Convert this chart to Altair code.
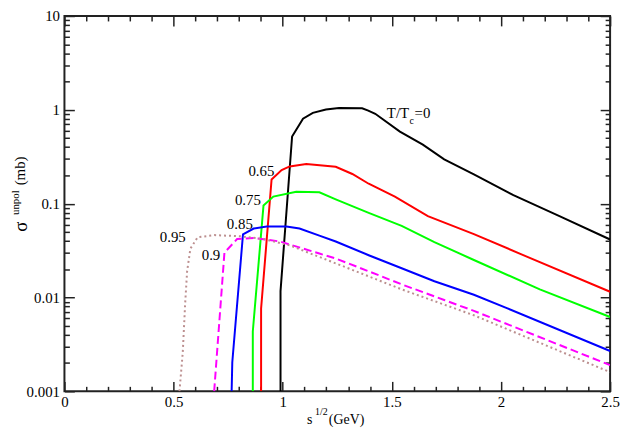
import altair as alt
import pandas as pd

FONT = "Liberation Serif"

# ---------------- data (x = sqrt(s) GeV, y = sigma mb) ----------------
black_x = [0.99, 0.99, 1.043, 1.093, 1.138, 1.198, 1.258, 1.364, 1.392, 1.424, 1.537, 1.642, 1.74, 1.876, 2.057, 2.268, 2.5]
black_y = [0.001, 0.0117, 0.519, 0.805, 0.929, 1.006, 1.048, 1.038, 0.98, 0.908, 0.585, 0.426, 0.297, 0.205, 0.123, 0.0736, 0.0415]

red_x = [0.901, 0.901, 0.949, 0.995, 1.032, 1.108, 1.243, 1.319, 1.394, 1.514, 1.665, 1.876, 2.102, 2.5]
red_y = [0.001, 0.0076, 0.181, 0.228, 0.249, 0.264, 0.247, 0.207, 0.163, 0.119, 0.0736, 0.0474, 0.0283, 0.0115]

green_x = [0.863, 0.863, 0.912, 0.957, 1.062, 1.168, 1.243, 1.394, 1.545, 1.695, 1.876, 2.178, 2.5]
green_y = [0.001, 0.00434, 0.0957, 0.119, 0.134, 0.132, 0.111, 0.0796, 0.058, 0.0389, 0.0251, 0.0122, 0.0062]

blue_x = [0.766, 0.769, 0.818, 0.867, 0.927, 1.017, 1.077, 1.168, 1.243, 1.394, 1.545, 1.695, 1.876, 2.027, 2.5]
blue_y = [0.001, 0.00204, 0.0471, 0.0543, 0.057, 0.057, 0.0543, 0.0456, 0.0395, 0.0282, 0.0205, 0.0149, 0.0107, 0.0077, 0.00269]

magenta_x = [0.686, 0.733, 0.791, 0.867, 0.987, 1.168, 1.243, 1.394, 1.545, 1.74, 1.876, 2.5]
magenta_y = [0.001, 0.030, 0.042, 0.0431, 0.0395, 0.0294, 0.026, 0.019, 0.0138, 0.0094, 0.0072, 0.0019]

dotted_x = [0.527, 0.542, 0.553, 0.562, 0.577, 0.61, 0.686, 0.806, 0.912, 1.032, 1.243, 1.394, 1.545, 1.876, 2.5]
dotted_y = [0.001, 0.00258, 0.00855, 0.019, 0.0331, 0.0438, 0.0462, 0.0449, 0.042, 0.0359, 0.0231, 0.0168, 0.0122, 0.00646, 0.0016]

# curve labels (data coordinates, right-aligned)
curve_labels = ["0.65", "0.75", "0.85", "0.9", "0.95"]
curve_label_x = [0.962, 0.900, 0.863, 0.714, 0.556]
curve_label_y = [0.199, 0.0973, 0.0535, 0.0253, 0.0389]

# "T/Tc=0" label pieces (data coordinates, left-aligned)
tt_text = ["T/T", "c", "=0"]
tt_x = [1.477, 1.581, 1.604]
tt_y = [0.81, 0.703, 0.81]
tt_size = [15, 10, 15]

# axis ticks
x_major = [0, 0.5, 1, 1.5, 2, 2.5]
x_minor = [0.1, 0.2, 0.3, 0.4, 0.6, 0.7, 0.8, 0.9, 1.1, 1.2, 1.3, 1.4,
           1.6, 1.7, 1.8, 1.9, 2.1, 2.2, 2.3, 2.4]
y_major = [0.001, 0.01, 0.1, 1, 10]
y_minor = [0.002, 0.003, 0.004, 0.005, 0.006, 0.007, 0.008, 0.009,
           0.02, 0.03, 0.04, 0.05, 0.06, 0.07, 0.08, 0.09,
           0.2, 0.3, 0.4, 0.5, 0.6, 0.7, 0.8, 0.9,
           2, 3, 4, 5, 6, 7, 8, 9]

# styles
series_x = [black_x, red_x, green_x, blue_x, magenta_x, dotted_x]
series_y = [black_y, red_y, green_y, blue_y, magenta_y, dotted_y]
series_color = ["#000000", "#ff0000", "#00ff00", "#0000ff", "#ff00ff", "#bc8f8f"]
series_dash = [None, None, None, None, [8, 4], [2, 3]]

W, H = 551, 379

xs = alt.Scale(domain=[0, 2.5], nice=False, zero=False)
ys = alt.Scale(type="log", domain=[0.001, 10], nice=False)


def label_axis(orient, values, pad):
    return alt.Axis(orient=orient, values=values, format="~g", grid=False, domain=False,
                    title=None, ticks=False, tickSize=0, labels=True,
                    labelFont=FONT, labelFontSize=15, labelColor="black",
                    labelPadding=pad, labelFlush=False, labelOverlap=False, labelBound=False)


def tick_axis(orient, values, size):
    return alt.Axis(orient=orient, values=values, grid=False, domain=False, title=None,
                    labels=False, ticks=True, tickSize=size, offset=-size,
                    tickColor="#222", tickWidth=1.5)


x_axes = [label_axis("bottom", x_major, 3), tick_axis("bottom", x_major, 10),
          tick_axis("bottom", x_minor, 5), tick_axis("top", x_major, 10),
          tick_axis("top", x_minor, 5), None]
y_axes = [label_axis("left", y_major, 5), tick_axis("left", y_major, 10),
          tick_axis("left", y_minor, 5), tick_axis("right", y_major, 10),
          tick_axis("right", y_minor, 5), None]

layers = []
for k in range(6):
    df = pd.DataFrame({"x": series_x[k], "y": series_y[k], "i": list(range(len(series_x[k])))})
    mk = dict(color=series_color[k], strokeWidth=2, clip=True)
    if series_dash[k] is not None:
        mk["strokeDash"] = series_dash[k]
    layers.append(
        alt.Chart(df).mark_line(**mk).encode(
            x=alt.X("x:Q", scale=xs, axis=x_axes[k]),
            y=alt.Y("y:Q", scale=ys, axis=y_axes[k]),
            order=alt.Order("i:Q"),
        )
    )

lab_df = pd.DataFrame({"lab": curve_labels, "x": curve_label_x, "y": curve_label_y})
layers.append(
    alt.Chart(lab_df).mark_text(align="right", baseline="alphabetic", font=FONT,
                                fontSize=15, color="black").encode(
        x=alt.X("x:Q", scale=xs, axis=None),
        y=alt.Y("y:Q", scale=ys, axis=None),
        text="lab:N",
    )
)

tt_df = pd.DataFrame({"lab": tt_text, "x": tt_x, "y": tt_y, "fs": tt_size})
layers.append(
    alt.Chart(tt_df).mark_text(align="left", baseline="alphabetic", font=FONT,
                               color="black").encode(
        x=alt.X("x:Q", scale=xs, axis=None),
        y=alt.Y("y:Q", scale=ys, axis=None),
        text="lab:N",
        size=alt.Size("fs:Q", scale=None, legend=None),
    )
)


def title_piece(txt, px, py, fs, angle=0):
    kw = dict(align="left", baseline="alphabetic", font=FONT, fontSize=fs, color="black", text=txt)
    if angle:
        kw["angle"] = angle
    return alt.Chart(pd.DataFrame({"a": [0]})).mark_text(**kw).encode(
        x=alt.value(px), y=alt.value(py))


# axis titles (pixel offsets relative to the plot area)
layers += [
    title_piece("s", 245, 412, 14),
    title_piece("1/2", 253, 403, 10),
    title_piece("(GeV)", 267, 412, 14),
    title_piece("σ", -38, 218, 19, 270),
    title_piece("unpol", -46, 201, 11, 270),
    title_piece("(mb)", -40, 171, 15, 270),
]

chart = alt.layer(*layers).resolve_axis(x="independent", y="independent").properties(
    width=W, height=H,
    autosize=alt.AutoSizeParams(type="none"),
    padding={"left": 57, "top": 6, "right": 10, "bottom": 36},
    background="white",
).configure_view(stroke="#222", strokeWidth=2)

chart.save("out.html", embed_options={"renderer": "svg", "actions": False})
